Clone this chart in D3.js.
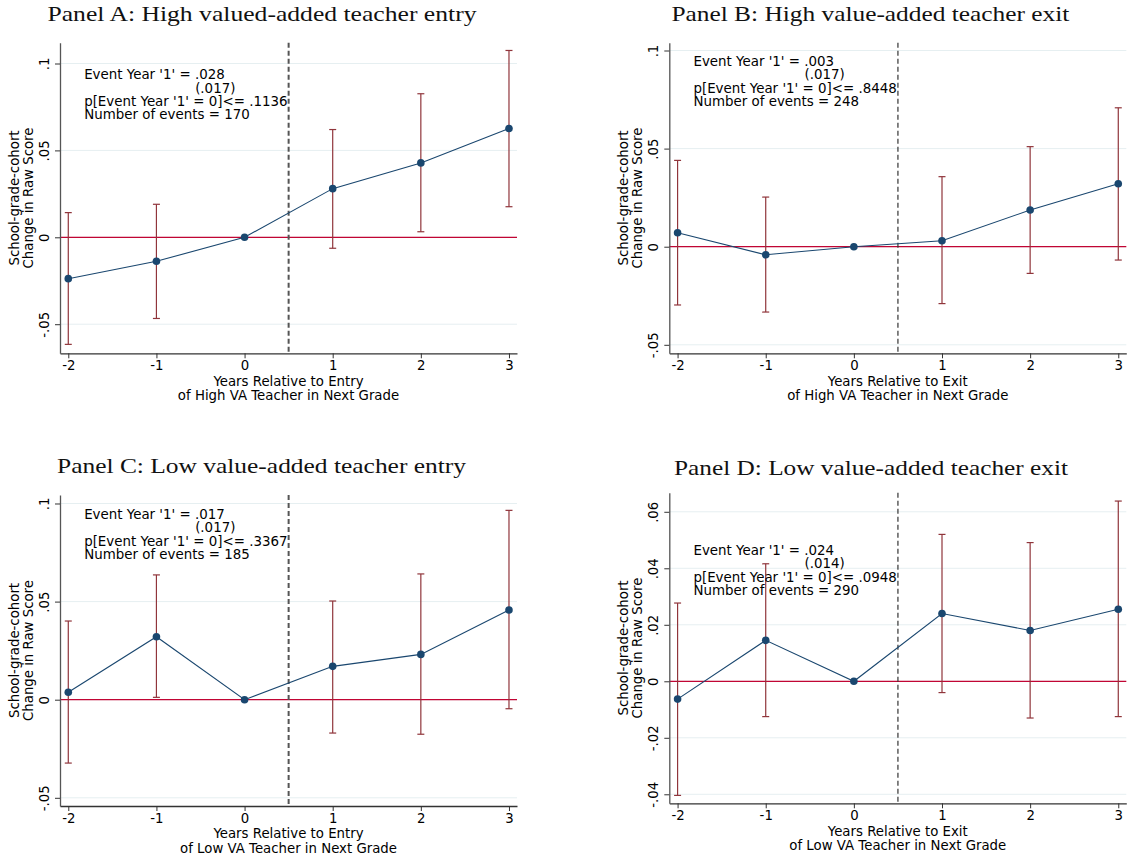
<!DOCTYPE html>
<html>
<head>
<meta charset="utf-8">
<script src="https://cdn.jsdelivr.net/npm/d3@7"></script>
<style>
body { margin: 0; background: #fff; }
text { font-family: "DejaVu Sans", sans-serif; }
</style>
</head>
<body>
<script>
// event years on the x axis
var years = [-2, -1, 0, 1, 2, 3];

// Panel A: high VA entry
var coefA = [-0.0238, -0.0138, 0, 0.028, 0.0428, 0.0626];
var loA   = [-0.0616, -0.0467, null, -0.0063, 0.0032, 0.0176];
var hiA   = [0.0142, 0.0190, null, 0.0620, 0.0826, 0.1075];

// Panel B: high VA exit
var coefB = [0.0071, -0.0041, 0, 0.003, 0.0187, 0.0321];
var loB   = [-0.0297, -0.0333, null, -0.0290, -0.0136, -0.0068];
var hiB   = [0.0440, 0.0253, null, 0.0357, 0.0510, 0.0708];

// Panel C: low VA entry
var coefC = [0.0038, 0.0321, 0, 0.017, 0.0231, 0.0457];
var loC   = [-0.0323, 0.0012, null, -0.0170, -0.0176, -0.0046];
var hiC   = [0.0401, 0.0636, null, 0.0503, 0.0641, 0.0965];

// Panel D: low VA exit
var coefD = [-0.0063, 0.0145, 0, 0.024, 0.0180, 0.0255];
var loD   = [-0.0404, -0.0125, null, -0.0040, -0.0130, -0.0125];
var hiD   = [0.0277, 0.0416, null, 0.0520, 0.0491, 0.0638];

var ticksABC = [-0.05, 0, 0.05, 0.1];
var ticksD = [-0.04, -0.02, 0, 0.02, 0.04, 0.06];

var titles = [
  "Panel A: High valued-added teacher entry",
  "Panel B: High value-added teacher exit",
  "Panel C: Low value-added teacher entry",
  "Panel D: Low value-added teacher exit"
];

var xTitles = [
  ["Years Relative to Entry", "of High VA Teacher in Next Grade"],
  ["Years Relative to Exit", "of High VA Teacher in Next Grade"],
  ["Years Relative to Entry", "of Low VA Teacher in Next Grade"],
  ["Years Relative to Exit", "of Low VA Teacher in Next Grade"]
];
var yTitle = ["School-grade-cohort", "Change in Raw Score"];

var notes = [
  ["Event Year '1' = .028", "(.017)", "p[Event Year '1' = 0]<= .1136", "Number of events = 170"],
  ["Event Year '1' = .003", "(.017)", "p[Event Year '1' = 0]<= .8448", "Number of events = 248"],
  ["Event Year '1' = .017", "(.017)", "p[Event Year '1' = 0]<= .3367", "Number of events = 185"],
  ["Event Year '1' = .024", "(.014)", "p[Event Year '1' = 0]<= .0948", "Number of events = 290"]
];
// where the note block sits, in data units
var noteX = [-1.82, -1.82, -1.82, -1.82];
var noteY = [0.0909, 0.0921, 0.0921, 0.0447];

var width = 1127, height = 859;

var svg = d3.select("body").append("svg")
  .attr("width", width)
  .attr("height", height);

// layout of each panel
var panels = [
  { coef: coefA, lo: loA, hi: hiA, ticks: ticksABC, yDom: [-0.06674, 0.11197],
    left: 60, right: 517, top: 42.7, bottom: 353.3,
    tx: 47.5, ty: 20.7, tw: 429, dash: 2, dashCol: "#555" },
  { coef: coefB, lo: loB, hi: hiB, ticks: ticksABC, yDom: [-0.05433, 0.10398],
    left: 669.3, right: 1126.3, top: 42.7, bottom: 353.3,
    tx: 671.4, ty: 20.7, tw: 398, dash: 1.2, dashCol: "#333" },
  { coef: coefC, lo: loC, hi: hiC, ticks: ticksABC, yDom: [-0.05418, 0.10433],
    left: 60, right: 517, top: 495, bottom: 806,
    tx: 57, ty: 473.3, tw: 409, dash: 2, dashCol: "#555" },
  { coef: coefD, lo: loD, hi: hiD, ticks: ticksD, yDom: [-0.04319, 0.06676],
    left: 669.3, right: 1126.3, top: 492.7, bottom: 803.3,
    tx: 674, ty: 475, tw: 394, dash: 1.2, dashCol: "#333" }
];

// Stata style labels: no leading zero, plain hyphen
function fmt(v) {
  if (Math.abs(v) < 1e-9) return "0";
  var s = String(+v.toFixed(3));
  return s.replace("0.", ".");
}

panels.forEach(function(p, i) {
  var g = svg.append("g");
  var x = d3.scaleLinear().domain([-2.094, 3.091]).range([p.left, p.right]);
  var y = d3.scaleLinear().domain(p.yDom).range([p.bottom, p.top]);

  // title
  g.append("text")
    .attr("x", p.tx).attr("y", p.ty)
    .attr("textLength", p.tw).attr("lengthAdjust", "spacingAndGlyphs")
    .style("font-family", "'Liberation Serif', serif")
    .style("font-size", "22px")
    .attr("fill", "#111")
    .text(titles[i]);

  // grid
  g.append("g").selectAll("line")
    .data(p.ticks)
    .enter().append("line")
    .attr("x1", p.left).attr("x2", p.right)
    .attr("y1", function(d) { return y(d); })
    .attr("y2", function(d) { return y(d); })
    .attr("stroke", "#e6eff1")
    .attr("stroke-width", 1);

  // zero line
  g.append("line")
    .attr("x1", p.left).attr("x2", p.right)
    .attr("y1", y(0)).attr("y2", y(0))
    .attr("stroke", "#c10534").attr("stroke-width", 1.3);

  // event line at 0.5
  g.append("line")
    .attr("x1", x(0.5)).attr("x2", x(0.5))
    .attr("y1", p.top).attr("y2", p.bottom)
    .attr("stroke", p.dashCol).attr("stroke-width", p.dash)
    .attr("stroke-dasharray", "5,3");

  // axes
  var xAxis = d3.axisBottom(x).tickValues(years).tickSize(5).tickSizeOuter(0)
    .tickFormat(function(d) { return String(d); });
  var gx = g.append("g").attr("transform", "translate(0," + p.bottom + ")").call(xAxis);
  gx.select(".domain").attr("stroke", "#333").attr("stroke-width", 1.3);
  gx.selectAll(".tick line").attr("stroke", "#333");
  gx.selectAll(".tick text")
    .attr("y", 16.7).attr("dy", 0)
    .attr("fill", "#000")
    .style("font-family", "'DejaVu Sans', sans-serif")
    .style("font-size", "13.3px");

  var yAxis = d3.axisLeft(y).tickValues(p.ticks).tickSize(5).tickSizeOuter(0)
    .tickFormat(fmt);
  var gy = g.append("g").attr("transform", "translate(" + p.left + ",0)").call(yAxis);
  gy.select(".domain").attr("stroke", "#555").attr("stroke-width", 1.3);
  gy.selectAll(".tick line").attr("stroke", "#333");
  gy.selectAll(".tick text")
    .attr("transform", "rotate(-90)")
    .attr("x", 0).attr("y", -11.5).attr("dy", 0)
    .attr("text-anchor", "middle")
    .attr("fill", "#000")
    .style("font-family", "'DejaVu Sans', sans-serif")
    .style("font-size", "13.3px");

  // axis titles
  var midX = (p.left + p.right) / 2;
  xTitles[i].forEach(function(t, k) {
    g.append("text")
      .attr("x", midX).attr("y", p.bottom + 32.4 + k * 14.3)
      .attr("text-anchor", "middle")
      .style("font-size", "13.3px")
      .text(t);
  });
  var midY = (p.top + p.bottom) / 2;
  yTitle.forEach(function(t, k) {
    g.append("text")
      .attr("transform", "translate(" + (p.left - 41.5 + k * 14) + "," + midY + ") rotate(-90)")
      .attr("text-anchor", "middle")
      .style("font-size", "13.3px")
      .text(t);
  });

  // confidence intervals
  var ci = years.map(function(d, j) { return { x: d, lo: p.lo[j], hi: p.hi[j] }; })
    .filter(function(d) { return d.lo != null; });
  var cig = g.append("g").attr("stroke", "#90353b").attr("stroke-width", 1.2);
  cig.selectAll(".v").data(ci).enter().append("line")
    .attr("x1", function(d) { return x(d.x); }).attr("x2", function(d) { return x(d.x); })
    .attr("y1", function(d) { return y(d.lo); }).attr("y2", function(d) { return y(d.hi); });
  cig.selectAll(".capHi").data(ci).enter().append("line")
    .attr("x1", function(d) { return x(d.x) - 3.5; }).attr("x2", function(d) { return x(d.x) + 3.5; })
    .attr("y1", function(d) { return y(d.hi); }).attr("y2", function(d) { return y(d.hi); });
  cig.selectAll(".capLo").data(ci).enter().append("line")
    .attr("x1", function(d) { return x(d.x) - 3.5; }).attr("x2", function(d) { return x(d.x) + 3.5; })
    .attr("y1", function(d) { return y(d.lo); }).attr("y2", function(d) { return y(d.lo); });

  // coefficient line + markers
  var pts = years.map(function(d, j) { return { x: d, v: p.coef[j] }; });
  var line = d3.line().x(function(d) { return x(d.x); }).y(function(d) { return y(d.v); });
  g.append("path").datum(pts)
    .attr("d", line)
    .attr("fill", "none")
    .attr("stroke", "#1a476f")
    .attr("stroke-width", 1.1);
  g.append("g").selectAll("circle").data(pts).enter().append("circle")
    .attr("cx", function(d) { return x(d.x); })
    .attr("cy", function(d) { return y(d.v); })
    .attr("r", 3.8)
    .attr("fill", "#1a476f");

  // note block
  var nx = x(noteX[i]), ny = y(noteY[i]);
  notes[i].forEach(function(t, k) {
    g.append("text")
      .attr("x", k === 1 ? nx + 111 : nx)
      .attr("y", ny + k * 13.35)
      .style("font-size", "13.4px")
      .text(t);
  });
});
</script>
</body>
</html>
